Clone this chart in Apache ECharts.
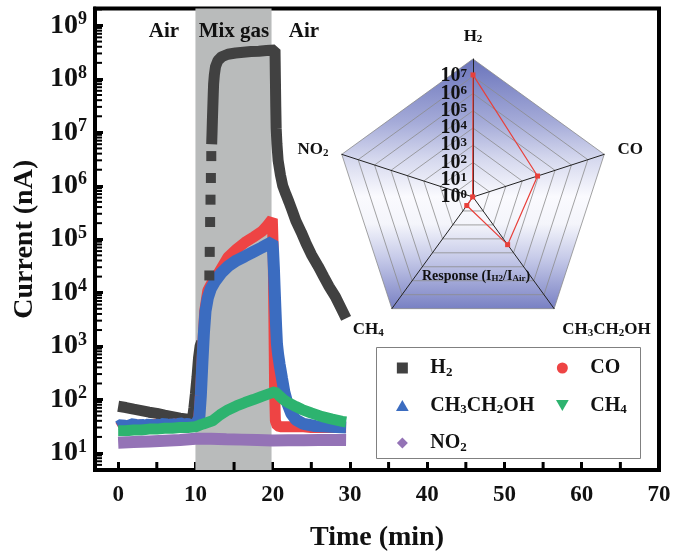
<!DOCTYPE html>
<html><head><meta charset="utf-8">
<script src="https://cdn.jsdelivr.net/npm/echarts@6/dist/echarts.min.js"></script>
<style>html,body{margin:0;padding:0;background:#fff}#c{width:688px;height:559px}</style>
</head><body><div id="c"></div>
<script>
// ---------------- data ----------------
const seriesNames = ['H2', 'CO', 'CH3CH2OH', 'CH4', 'NO2'];
const h2Data = [[0,75],[1,71],[2,66],[3,62],[4,58],[5,55],[6,51],[7,48],[8,45],[9,43],[9.6,42],[9.8,70],[10.0,130],[10.2,260],[10.4,600],[10.6,1000],[10.8,1200],
  [11.0,'-'],
  [12.1,6e6],[12.15,1e7],[12.2,1.8e7],[12.25,3e7],[12.3,5e7],[12.35,8e7],[12.45,1.2e8],[12.6,1.7e8],[12.9,2.2e8],[13.4,2.6e8],[14.2,2.9e8],[15.2,3.05e8],[16.2,3.15e8],[17.2,3.25e8],[18.2,3.3e8],[19.2,3.4e8],[20.3,3.5e8],
  [20.35,1e8],[20.4,3e7],[20.45,1.2e7],[20.55,6e6],[20.7,3e6],[21.0,1.6e6],[21.3,1e6],[21.7,7e5],[22.1,5e5],[22.5,3.5e5],[23.0,2.2e5],[23.7,1.35e5],[24.3,8.5e4],[25.0,5.2e4],[25.9,3.1e4],[26.6,2e4],[27.3,1.3e4],[28.1,8.5e3],[28.8,5.3e3],[29.5,3.3e3]];
const h2RiseData = [[11.8,2.1e4],[11.85,5.8e4],[11.9,2.1e5],[11.95,5.5e5],[12.0,1.4e6],[12.05,3.6e6]];
const coData = [[0,30],[0.5,33],[1,29],[1.5,34],[2,30],[2.5,35],[3,31],[3.5,33],[4,30],[4.5,36],[5,32],[5.5,34],[6,31],[6.5,35],[7,33],[7.5,36],[8,32],[8.5,35],[9,33],[9.5,34],[10,33],
  [10.4,40],[10.6,90],[10.8,350],[11.0,1400],[11.2,4500],[11.6,1.1e4],[12.2,1.6e4],[12.9,2.2e4],[14.2,4.6e4],[15.3,6.5e4],[16.4,8.7e4],[17.5,1.1e5],[18.6,1.4e5],[19.3,1.8e5],[19.95,2.4e5],
  [20.05,8e4],[20.1,2e4],[20.15,4e3],[20.2,800],[20.25,150],[20.35,40],[20.6,32],[21,31],[22,31],[23,31],[24,31],[25,30],[26,30],[27,30],[28,30],[29,30],[29.5,30]];
const ethanolData = [[0,31],[0.5,34],[1,30],[1.5,33],[2,35],[2.5,31],[3,34],[3.5,32],[4,35],[4.5,31],[5,34],[5.5,33],[6,36],[6.5,32],[7,35],[7.5,33],[8,36],[8.5,34],[9,35],[9.5,33],[10,34],
  [10.5,45],[10.7,120],[10.9,500],[11.1,1800],[11.3,4500],[11.6,8000],[12.0,1.2e4],[12.5,1.6e4],[13.3,2.3e4],[14.2,3.1e4],[15.3,4e4],[16.4,4.8e4],[17.5,5.8e4],[18.6,7e4],[19.3,8e4],[19.95,9e4],
  [20.05,6e4],[20.15,3e4],[20.25,1.2e4],[20.35,5e3],[20.45,2.2e3],[20.55,1.1e3],[20.7,700],[20.9,450],[21.2,250],[21.5,140],[21.9,85],[22.4,55],[23,42],[24,35],[25.5,32],[27.5,31],[29.5,30]];
const ch4Data = [[0,26],[1,26],[2,27],[3,27],[4,28],[5,28],[6,29],[7,29],[8,30],[9,30],[10,31],[10.5,33],[11,35],[12.2,40],[13.2,52],[14.2,64],[15.3,76],[16.4,88],[17.5,100],[18.6,115],[19.5,128],[20.3,140],
  [20.8,120],[21.4,100],[22,88],[23,74],[23.8,65],[25,56],[26.4,48],[27.7,43],[29,39],[29.5,38]];
const no2Data = [[0,15.5],[2,16],[4,16.5],[6,17],[8,17.5],[10,18.5],[12,18.5],[14,18],[16,17.8],[18,17.5],[20,17.2],[22,17.3],[24,17.4],[26,17.5],[28,17.6],[29.5,17.5]];

const mixGasWindow = [10, 19.85];
const xLabelValues = [0,10,20,30,40,50,60,70];
const xMinorValues = [5,15,25,35,45,55,65];
const yDecadeValues = [1e1,1e2,1e3,1e4,1e5,1e6,1e7,1e8,1e9];

// radar inset (response = I_gas / I_air)
const radarGases = ['H2','NO2','CH4','CH3CH2OH','CO'];
const radarResponse = [1.2e7, 1.05, 4.1, 2.6e3, 8.6e3];
const radarEvenExp = [0,2,4,6];
const radarOddExp = [1,3,5,7];

// ---------------- styling ----------------
const FONT = '"Liberation Serif", "Times New Roman", serif';
const colors = {H2:'#414141', CO:'#ee4444', CH3CH2OH:'#3b6cc0', CH4:'#2db36f', NO2:'#9473b6'};
const richName = {
  H2:'H{s|2}', CO:'CO', CH3CH2OH:'CH{s|3}CH{s|2}OH', CH4:'CH{s|4}', NO2:'NO{s|2}'
};
const xMin = -3, xMax = 70;
const yMin = Math.pow(10, 0.682), yMax = Math.pow(10, 9.318);
const yMinorValues = [];
for (let d = 0; d <= 9; d++) for (let k = 2; k <= 9; k++) { const v = k * Math.pow(10, d); if (v > yMin && v < yMax) yMinorValues.push(v); }

function lineSeries(name, data, extra) {
  return Object.assign({
    name, type:'line', data, xAxisIndex:0, yAxisIndex:0, showSymbol:false, symbol:'none',
    lineStyle:{width:11, color:colors[name]}, itemStyle:{color:colors[name]}, connectNulls:false,
    animation:false, silent:true
  }, extra || {});
}

const radarLabelRich = {
  b:{fontFamily:FONT, fontWeight:'bold', fontSize:20, color:'#111', lineHeight:18},
  s:{fontFamily:FONT, fontWeight:'bold', fontSize:13, color:'#111', lineHeight:8, verticalAlign:'top'}
};
function radarLabelAxis(vals) {
  return {type:'value', gridIndex:1, min:0, max:8, position:'left', offset:0,
    axisLine:{show:false, onZero:false}, axisTick:{show:false}, splitLine:{show:false},
    axisLabel:{customValues:vals, margin:6, formatter:v => '{b|10}{s|' + v + '}', rich:radarLabelRich}};
}

const baseGraphic = [
  {type:'rect', z:3, shape:{x:376.5, y:347.5, width:264, height:111}, style:{fill:'#fff', stroke:'#808080', lineWidth:1}},
  {type:'text', z:20, x:164, y:32, style:{text:'Air', align:'center', verticalAlign:'middle', font:'bold 21px ' + FONT, fill:'#111'}},
  {type:'text', z:20, x:234, y:32, style:{text:'Mix gas', align:'center', verticalAlign:'middle', font:'bold 21px ' + FONT, fill:'#111'}},
  {type:'text', z:20, x:304, y:32, style:{text:'Air', align:'center', verticalAlign:'middle', font:'bold 21px ' + FONT, fill:'#111'}},
  {type:'text', z:20, x:476, y:276, style:{text:'Response (I{s|H2}/I{s|Air})', align:'center', verticalAlign:'middle',
    font:'bold 14px ' + FONT, fill:'#111',
    rich:{s:{font:'bold 9px ' + FONT, fill:'#111', lineHeight:6, verticalAlign:'bottom'}}}}
];

const chart = echarts.init(document.getElementById('c'), null, {renderer:'canvas'});
chart.setOption({
  animation:false,
  backgroundColor:'#fff',
  grid:[
    {left:95, right:29, top:8.5, bottom:89, show:true, borderColor:'#000', borderWidth:4, backgroundColor:'transparent'},
    {left:473, top:59, width:1, height:138, show:false}
  ],
  xAxis:[
    {type:'value', gridIndex:0, min:xMin, max:xMax, position:'bottom',
     name:'Time (min)', nameLocation:'middle', nameGap:54,
     nameTextStyle:{fontFamily:FONT, fontWeight:'bold', fontSize:28, color:'#111'},
     axisLine:{onZero:false, lineStyle:{color:'#000', width:4}},
     axisTick:{show:true, inside:true, length:8, lineStyle:{width:3, color:'#000'}, customValues:xLabelValues},
     axisLabel:{customValues:xLabelValues, margin:14, fontFamily:FONT, fontWeight:'bold', fontSize:23, color:'#111'},
     splitLine:{show:false}},
    {type:'value', gridIndex:1, show:false, min:0, max:1}
  ],
  yAxis:[
    {type:'log', gridIndex:0, min:yMin, max:yMax, logBase:10, position:'left',
     name:'Current (nA)', nameLocation:'middle', nameGap:47, nameRotate:90,
     nameTextStyle:{fontFamily:FONT, fontWeight:'bold', fontSize:28, color:'#111'},
     axisLine:{onZero:false, lineStyle:{color:'#000', width:4}},
     axisTick:{show:true, inside:true, length:8, lineStyle:{width:3, color:'#000'}, customValues:yDecadeValues},
     axisLabel:{customValues:yDecadeValues, margin:8,
       formatter:v => '{b|10}{s|' + Math.round(Math.log10(v)) + '}',
       rich:{b:{fontFamily:FONT, fontWeight:'bold', fontSize:28, color:'#111', lineHeight:30},
             s:{fontFamily:FONT, fontWeight:'bold', fontSize:18, color:'#111', lineHeight:12, verticalAlign:'top'}}},
     splitLine:{show:false}},
    radarLabelAxis(radarEvenExp),
    radarLabelAxis(radarOddExp)
  ],
  radar:{
    center:[473,197], radius:138, startAngle:90, shape:'polygon', splitNumber:8,
    indicator: radarGases.map(n => ({name:n, min:0, max:8})),
    axisName:{
      formatter:(n) => (n === 'CH4' || n === 'CH3CH2OH' ? '{gap| }\n' : '') + richName[n],
      fontFamily:FONT, fontWeight:'bold', fontSize:17, color:'#111',
      rich:{s:{fontFamily:FONT, fontWeight:'bold', fontSize:11, color:'#111', lineHeight:7, verticalAlign:'bottom'},
            gap:{fontSize:4, lineHeight:20}}
    },
    nameGap:14,
    axisLine:{lineStyle:{color:'#222', width:1}},
    splitLine:{lineStyle:{color:'#8c8c8c', width:0.8}},
    splitArea:{show:true, areaStyle:{color:[{
      type:'linear', x:0, y:59, x2:0, y2:309, global:true,
      colorStops:[
        {offset:0, color:'#6a74bb'},{offset:0.25, color:'#a4aad8'},{offset:0.4, color:'#d5d8ee'},
        {offset:0.55, color:'#fafafe'},{offset:0.66, color:'#f4f5fb'},{offset:0.8, color:'#c5c9e8'},
        {offset:1, color:'#7880c3'}]
    }]}},
    axisTick:{show:false}, axisLabel:{show:false}
  },
  legend:[
    {orient:'vertical', left:391, top:352, itemWidth:46, itemHeight:11, itemGap:15.5, selectedMode:false, z:10,
     lineStyle:{width:0},
     data:[{name:'H2', icon:'path://M0,0H10V10H0Z'},{name:'CH3CH2OH', icon:'path://M5,0L10,8.66L0,8.66Z'},{name:'NO2', icon:'path://M6,0L12,6L6,12L0,6Z'}],
     formatter:n => richName[n],
     textStyle:{fontFamily:FONT, fontWeight:'bold', fontSize:20, color:'#111', lineHeight:22,
       rich:{s:{fontFamily:FONT, fontWeight:'bold', fontSize:13, color:'#111', lineHeight:8, verticalAlign:'bottom'}}}},
    {orient:'vertical', left:551, top:352, itemWidth:46, itemHeight:11, itemGap:15.5, selectedMode:false, z:10,
     lineStyle:{width:0},
     data:[{name:'CO', icon:'circle'},{name:'CH4', icon:'path://M0,0L10,0L5,8.66Z'}],
     formatter:n => richName[n],
     textStyle:{fontFamily:FONT, fontWeight:'bold', fontSize:20, color:'#111', lineHeight:22,
       rich:{s:{fontFamily:FONT, fontWeight:'bold', fontSize:13, color:'#111', lineHeight:8, verticalAlign:'bottom'}}}}
  ],
  graphic: baseGraphic,
  series:[
    lineSeries('H2', h2Data, {markArea:{silent:true, z:1, itemStyle:{color:'#b9bbbb'}, data:[[{xAxis:mixGasWindow[0]},{xAxis:mixGasWindow[1]}]]}}),
    {name:'H2', type:'line', data:h2RiseData, symbol:'rect', symbolSize:10, showSymbol:true, lineStyle:{width:0}, itemStyle:{color:colors.H2}, animation:false, silent:true},
    lineSeries('CO', coData),
    lineSeries('CH3CH2OH', ethanolData, {lineStyle:{width:12, color:colors.CH3CH2OH}}),
    lineSeries('CH4', ch4Data),
    lineSeries('NO2', no2Data, {lineStyle:{width:12, color:colors.NO2}}),
    {type:'radar', name:'Response', data:[{value: radarResponse.map(v => Math.log10(v))}],
     symbol:'rect', symbolSize:5, lineStyle:{color:'#e8403a', width:1.2}, itemStyle:{color:'#e8403a'}, animation:false, silent:true}
  ]
});

// minor ticks, positioned through the axes' own scales
const tickGraphic = [];
xMinorValues.forEach(v => {
  const p = chart.convertToPixel({xAxisIndex:0, yAxisIndex:0}, [v, yMin]);
  tickGraphic.push({type:'rect', z:50, shape:{x:p[0] - 1.5, y:p[1] - 8, width:3, height:8}, style:{fill:'#000'}});
});
yMinorValues.forEach(v => {
  const p = chart.convertToPixel({xAxisIndex:0, yAxisIndex:0}, [xMin, v]);
  tickGraphic.push({type:'rect', z:50, shape:{x:p[0], y:p[1] - 1, width:7, height:2}, style:{fill:'#000'}});
});
chart.setOption({graphic: baseGraphic.concat(tickGraphic)});
</script></body></html>
